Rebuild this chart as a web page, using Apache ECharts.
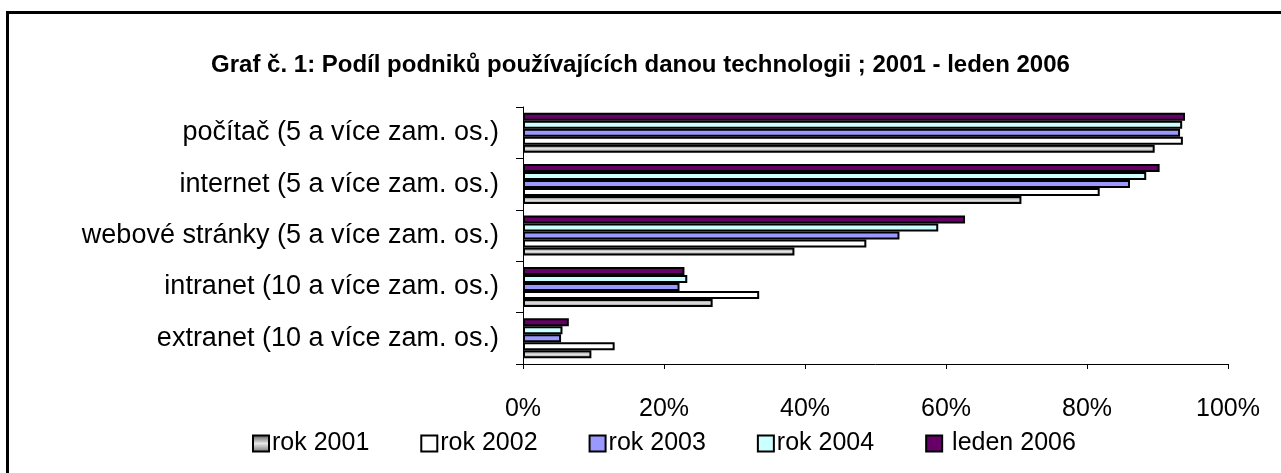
<!DOCTYPE html>
<html>
<head>
<meta charset="utf-8">
<script src="https://cdn.jsdelivr.net/npm/echarts@6/dist/echarts.min.js"></script>
<style>
html,body{margin:0;padding:0;background:#fff;}
#chart{width:1281px;height:473px;}
</style>
</head>
<body>
<div id="chart"></div>
<script>
// Categories, top to bottom
var categories = [
  'počítač (5 a více zam. os.)',
  'internet (5 a více zam. os.)',
  'webové stránky (5 a více zam. os.)',
  'intranet (10 a více zam. os.)',
  'extranet (10 a více zam. os.)'
];
var seriesNames = ['rok 2001', 'rok 2002', 'rok 2003', 'rok 2004', ' leden 2006'];
var rok2001 = [89.6, 70.7, 38.5, 26.9, 9.7];
var rok2002 = [93.6, 81.8, 48.7, 33.5, 13.0];
var rok2003 = [93.2, 86.1, 53.4, 22.2, 5.4];
var rok2004 = [93.5, 88.4, 58.9, 23.3, 5.6];
var leden2006 = [93.9, 90.3, 62.7, 22.9, 6.5];
var xTicks = [0, 20, 40, 60, 80, 100];

var FONT = '"Liberation Sans", Arial, sans-serif';
var chart = echarts.init(document.getElementById('chart'));

var grayGrad = new echarts.graphic.LinearGradient(0, 0, 0, 1, [
  {offset: 0, color: '#505050'},
  {offset: 0.5, color: '#e8e8e8'},
  {offset: 1, color: '#707070'}
]);
var fills = [grayGrad, '#ffffff', '#9999ff', '#ccffff', '#660066'];
var values = [rok2001, rok2002, rok2003, rok2004, leden2006];

var series = values.map(function (v, i) {
  return {
    name: seriesNames[i],
    type: 'bar',
    data: v,
    barWidth: 8,
    barGap: '0%',
    itemStyle: {color: fills[i], borderColor: '#000', borderWidth: 2},
    emphasis: {disabled: true},
    animation: false
  };
}).reverse(); // latest year drawn at top of each group

chart.setOption({
  animation: false,
  backgroundColor: '#fff',
  title: {
    text: 'Graf č. 1: Podíl podniků používajících danou technologii ; 2001 - leden 2006',
    left: 'center',
    top: 48,
    textStyle: {fontFamily: FONT, fontWeight: 'bold', fontSize: 24, color: '#000'}
  },
  legend: {
    data: seriesNames,
    left: 247,
    top: 426,
    itemWidth: 16,
    itemHeight: 16,
    itemGap: 51,
    icon: 'rect',
    selectedMode: false,
    textStyle: {fontFamily: FONT, fontSize: 25, color: '#000', padding: [0, 0, 0, -2]}
  },
  grid: {left: 523, right: 53, top: 107, bottom: 109, containLabel: false},
  xAxis: {
    type: 'value',
    min: 0,
    max: 100,
    interval: 20,
    axisLine: {show: true, lineStyle: {color: '#000', width: 1}},
    axisTick: {show: true, length: 5, lineStyle: {color: '#000'}},
    splitLine: {show: false},
    axisLabel: {
      fontFamily: FONT, fontSize: 25, color: '#000', margin: 33,
      formatter: function (v) { return xTicks.indexOf(v) >= 0 ? v + '%' : ''; }
    }
  },
  yAxis: {
    type: 'category',
    data: categories,
    inverse: true,
    axisLine: {show: true, lineStyle: {color: '#000', width: 1}},
    axisTick: {show: true, length: 7, lineStyle: {color: '#000'}},
    axisLabel: {fontFamily: FONT, fontSize: 27, color: '#000', margin: 24}
  },
  graphic: [{
    type: 'rect',
    shape: {x: 7.5, y: 12.5, width: 1400, height: 600},
    style: {fill: 'none', stroke: '#000', lineWidth: 3},
    silent: true
  }],
  series: series
});
</script>
</body>
</html>
